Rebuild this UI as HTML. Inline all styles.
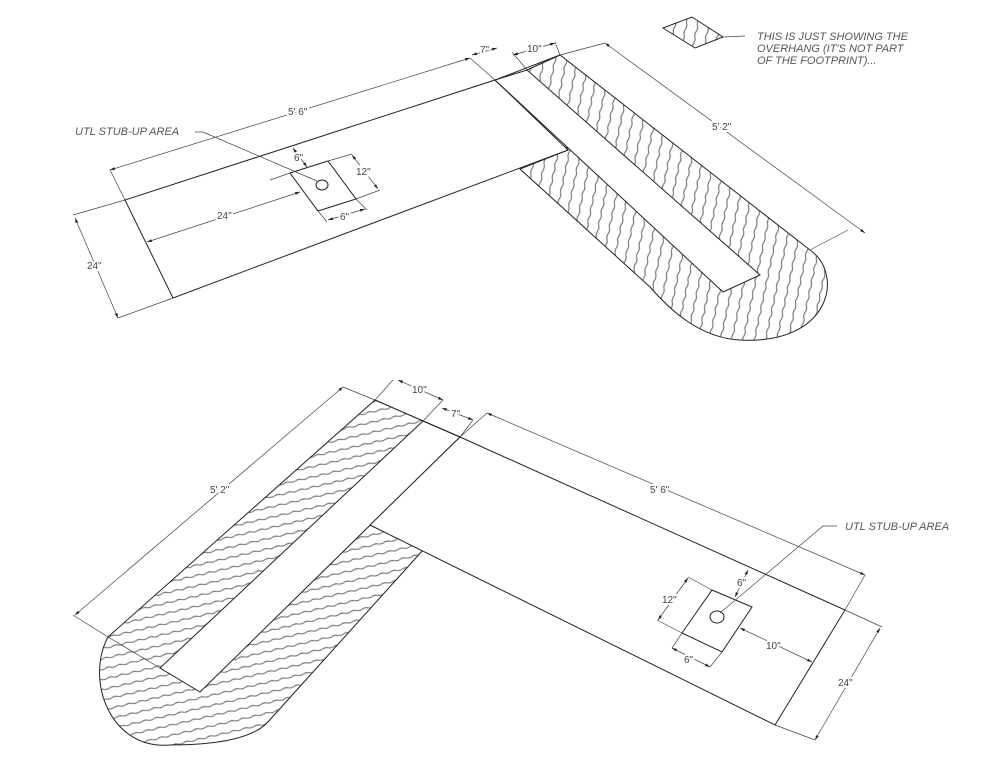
<!DOCTYPE html>
<html><head><meta charset="utf-8"><style>
html,body{margin:0;padding:0;background:#fff;}
svg{display:block;}
text{font-family:"Liberation Sans",sans-serif;fill:#444;font-size:10px;}
.lab{font-style:italic;font-size:11px;fill:#555;}
.dt{paint-order:stroke;stroke:#fff;stroke-width:4px;}
.e{stroke:#222;stroke-width:1;}
.d{stroke:#444;stroke-width:0.7;fill:none;}
</style></head><body>
<svg width="997" height="759" viewBox="0 0 997 759" xmlns="http://www.w3.org/2000/svg">
<defs>
<pattern id="hv" width="11" height="24" patternUnits="userSpaceOnUse" patternTransform="rotate(12)">
<rect width="11" height="24" fill="#fff"/>
<path d="M5.5 0 q1.3 3 0 6 q-1.3 3 0 6 q1.3 3 0 6 q-1.3 3 0 6" stroke="#7a7a7a" stroke-width="1.2" fill="none"/>
</pattern>
<pattern id="hh" width="24" height="10" patternUnits="userSpaceOnUse" patternTransform="rotate(-13)">
<rect width="24" height="10" fill="#fff"/>
<path d="M0 5 q3 -1.3 6 0 q3 1.3 6 0 q3 -1.3 6 0 q3 1.3 6 0" stroke="#7a7a7a" stroke-width="1.2" fill="none"/>
</pattern>
<marker id="a" viewBox="0 0 10 10" refX="10" refY="5" markerWidth="7" markerHeight="7" orient="auto-start-reverse">
<path d="M0 2 L10 5 L0 8z" fill="#222"/>
</marker>
</defs>

<!-- ===== TOP DIAGRAM ===== -->
<path d="M527 70 L560 55 L810 250 C845 275 830 345 740 340 C700 338 670 310 650 287 L520 169 L568 150 Z" style="fill:url(#hv)" class="e"/>
<path class="d" d="M73 215 L125 200 M173 298 L118 318 M125 200 L110 170 M470 58 L495 80 M527 70 L512 52 M560 55 L555 42 M560 55 L605 43 M810 250 L848 230"/>
<polygon points="125,200 495,80 568,150 173,298" style="fill:#fff" class="e"/>
<line class="e" x1="495" y1="80" x2="560" y2="55"/>
<polygon points="495,80 527,70 760,275 723,292" style="fill:#fff" class="e"/>
<line class="d" x1="110" y1="170" x2="470" y2="58" marker-start="url(#a)" marker-end="url(#a)"/>
<text class="dt" x="288" y="115">5' 6"</text>
<line class="d" x1="472" y1="55" x2="497" y2="48" marker-start="url(#a)" marker-end="url(#a)"/>
<text class="dt" x="480" y="53">7"</text>
<line class="d" x1="513" y1="55" x2="555" y2="43" marker-start="url(#a)" marker-end="url(#a)"/>
<text class="dt" x="527" y="52">10"</text>
<line class="d" x1="605" y1="43" x2="865" y2="233" marker-start="url(#a)" marker-end="url(#a)"/>
<text class="dt" x="712" y="130">5' 2"</text>
<line class="d" x1="75" y1="218" x2="118" y2="318" marker-start="url(#a)" marker-end="url(#a)"/>
<text class="dt" x="87" y="269">24"</text>
<line class="d" x1="147" y1="242" x2="300" y2="192" marker-start="url(#a)" marker-end="url(#a)"/>
<text class="dt" x="217" y="219">24"</text>
<polygon points="290,173 328,161 356,199 318,211" style="fill:#fff" class="e" stroke-width="0.9"/>
<path class="d" d="M318 211 L327 222 M356 199 L367 210 M328 161 L352 154 M356 199 L380 190 M290 173 L270 180"/>
<line class="d" x1="293" y1="148" x2="307" y2="167" marker-start="url(#a)" marker-end="url(#a)"/>
<text class="dt" x="294" y="161">6"</text>
<line class="d" x1="352" y1="155" x2="378" y2="189" marker-start="url(#a)" marker-end="url(#a)"/>
<text class="dt" x="356" y="175">12"</text>
<line class="d" x1="328" y1="220" x2="365" y2="209" marker-start="url(#a)" marker-end="url(#a)"/>
<text class="dt" x="340" y="220">6"</text>
<ellipse cx="322" cy="185" rx="6" ry="5" fill="none" stroke="#222"/>
<path class="d" d="M195 132 L203 132 L317 181"/>
<text class="lab" x="75" y="135">UTL STUB-UP AREA</text>

<polygon points="663,28 692,17 723,37 695,48" style="fill:url(#hv)" class="e" stroke-width="0.8"/>
<line class="d" x1="723" y1="37" x2="745" y2="36"/>
<text class="lab" x="757" y="40">THIS IS JUST SHOWING THE</text>
<text class="lab" x="757" y="52">OVERHANG (IT'S NOT PART</text>
<text class="lab" x="757" y="64">OF THE FOOTPRINT)...</text>

<!-- ===== BOTTOM DIAGRAM ===== -->
<path d="M375 400 L460 437 L370 525 L423 550 L267 723 C250 740 210 745 170 745 C110 750 85 680 108 637 Z" style="fill:url(#hh)" class="e"/>
<path class="d" d="M343 387 L375 400 M375 400 L393 380 M423 421 L443 400 M460 437 L473 420 M460 437 L487 413 M108 637 L73 615 M108 637 L160 668 M845 610 L865 575 M845 610 L882 627 M775 725 L815 740"/>
<polygon points="423,421 460,437 200,692 160,668" style="fill:#fff" class="e"/>
<polygon points="460,437 845,610 775,725 370,525" style="fill:#fff" class="e"/>
<line class="e" x1="375" y1="400" x2="460" y2="437"/>
<line class="d" x1="343" y1="387" x2="75" y2="615" marker-start="url(#a)" marker-end="url(#a)"/>
<text class="dt" x="210" y="493">5' 2"</text>
<line class="d" x1="398" y1="380" x2="443" y2="400" marker-start="url(#a)" marker-end="url(#a)"/>
<text class="dt" x="412" y="393">10"</text>
<line class="d" x1="442" y1="408" x2="473" y2="420" marker-start="url(#a)" marker-end="url(#a)"/>
<text class="dt" x="451" y="417">7"</text>
<line class="d" x1="487" y1="413" x2="865" y2="575" marker-start="url(#a)" marker-end="url(#a)"/>
<text class="dt" x="650" y="493">5' 6"</text>
<line class="d" x1="880" y1="628" x2="815" y2="740" marker-start="url(#a)" marker-end="url(#a)"/>
<text class="dt" x="838" y="686">24"</text>
<polygon points="712,590 752,607 722,652 682,633" style="fill:#fff" class="e" stroke-width="0.9"/>
<path class="d" d="M712 590 L688 577 M682 633 L657 620 M682 633 L672 648 M722 652 L710 667"/>
<line class="d" x1="688" y1="578" x2="658" y2="620" marker-start="url(#a)" marker-end="url(#a)"/>
<text class="dt" x="662" y="603">12"</text>
<line class="d" x1="672" y1="648" x2="710" y2="667" marker-start="url(#a)" marker-end="url(#a)"/>
<text class="dt" x="684" y="663">6"</text>
<line class="d" x1="748" y1="570" x2="735" y2="597" marker-start="url(#a)" marker-end="url(#a)"/>
<text class="dt" x="737" y="586">6"</text>
<line class="d" x1="740" y1="628" x2="812" y2="662" marker-start="url(#a)" marker-end="url(#a)"/>
<text class="dt" x="766" y="649">10"</text>
<ellipse cx="717" cy="617" rx="7" ry="6" fill="none" stroke="#222"/>
<path class="d" d="M720 613 L823 526 L837 526"/>
<text class="lab" x="845" y="530">UTL STUB-UP AREA</text>
</svg>
</body></html>
